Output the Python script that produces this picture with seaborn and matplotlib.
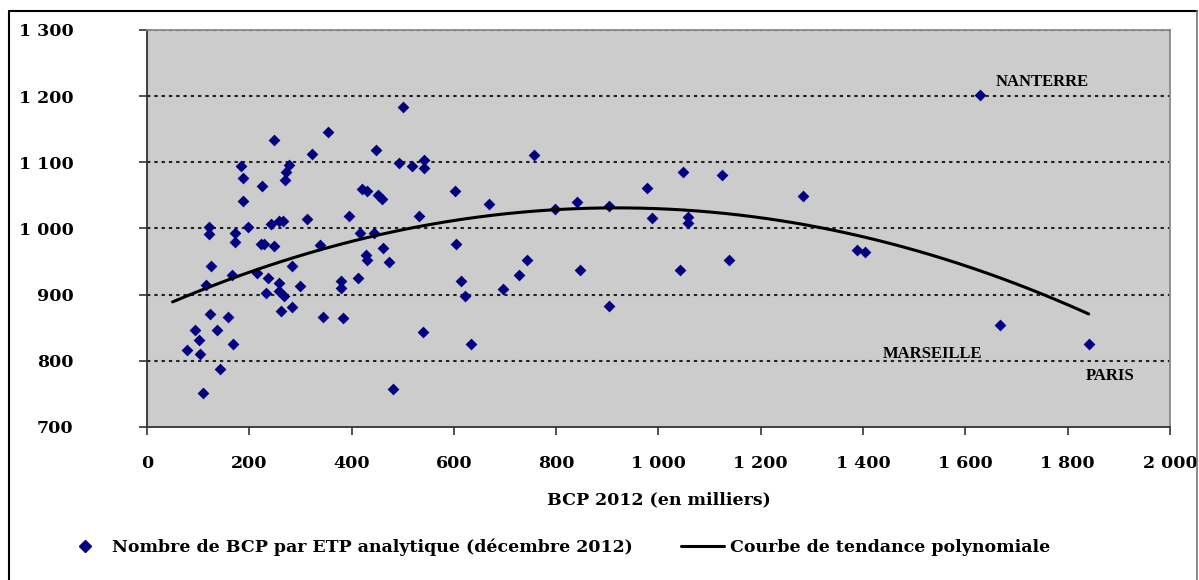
import numpy as np
import pandas as pd
import matplotlib
matplotlib.use("Agg")
import matplotlib.pyplot as plt
from matplotlib.lines import Line2D
from matplotlib.ticker import FuncFormatter, MultipleLocator
import seaborn as sns

# BCP 2012 (milliers) / nombre de BCP par ETP analytique
bcp = [79, 94, 102, 104, 110, 121, 121, 115, 126, 124, 137, 143, 159, 169, 166, 172, 172,
       184, 188, 188, 197, 216, 224, 223, 228, 236, 233, 242, 249, 249, 258, 265, 259, 259,
       268, 262, 270, 272, 278, 284, 284, 300, 313, 323, 339, 345, 354, 380, 380, 383, 394,
       412, 416, 421, 431, 428, 431, 444, 448, 452, 460, 461, 473, 480, 492, 501, 519, 531,
       542, 541, 539,
       602, 605, 614, 622, 633, 669, 696, 727, 743, 756, 798, 840, 846, 904, 904, 977, 987,
       1042, 1048, 1058, 1058, 1125, 1138, 1282, 1388, 1404, 1629, 1668, 1841]
bcp_etp = [816, 846, 831, 811, 752, 1002, 992, 914, 944, 871, 846, 787, 866, 826, 930, 993, 980,
           1094, 1076, 1042, 1002, 932, 1064, 977, 977, 925, 903, 1007, 1133, 974, 1012, 1012, 918, 905,
           898, 876, 1073, 1086, 1096, 943, 881, 913, 1014, 1113, 975, 866, 1146, 921, 910, 864, 1019,
           925, 993, 1059, 1056, 960, 953, 993, 1119, 1051, 1044, 970, 950, 757, 1099, 1183, 1094, 1019,
           1104, 1091, 843,
           1056, 977, 920, 898, 826, 1037, 908, 929, 953, 1111, 1029, 1040, 938, 1034, 883, 1061, 1016,
           938, 1086, 1017, 1009, 1081, 953, 1049, 967, 965, 1202, 854, 826]

# coefficients de la courbe de tendance (ordre 2)
trend_coef = [-1.884e-4, 0.3461, 872.2]
trend_start = 50

villes = ["NANTERRE", "MARSEILLE", "PARIS"]
villes_pos = [(1660, 1222), (1438, 811), (1836, 777)]

serie_label = "Nombre de BCP par ETP analytique (décembre 2012)"
trend_label = "Courbe de tendance polynomiale"

df = pd.DataFrame({"bcp": bcp, "etp": bcp_etp})
xt = np.linspace(trend_start, df["bcp"].max(), 200)
trend = pd.DataFrame({"bcp": xt, "etp": np.polyval(trend_coef, xt)})

sns.set_style("white")
plt.rcParams["font.family"] = ["DejaVu Serif"]
plt.rcParams["font.weight"] = "bold"
plt.rcParams["text.color"] = "black"
plt.rcParams["axes.labelcolor"] = "black"

fig = plt.figure(figsize=(11.99, 5.8), dpi=100)
ax = fig.add_axes([0.1226, 0.2638, 0.8532, 0.6845])
ax.set_facecolor("#cccccc")

for v in range(800, 1301, 100):
    ax.axhline(v, color="#222222", lw=1.5, ls=(0, (1.6, 1.9)), zorder=1)

sns.scatterplot(data=df, x="bcp", y="etp", marker="D", color="#000080", s=36,
                linewidth=0, ax=ax, zorder=3, legend=False)
sns.lineplot(data=trend, x="bcp", y="etp", color="black", lw=2.2, ax=ax, zorder=4,
             legend=False)

for name, (tx, ty) in zip(villes, villes_pos):
    ax.text(tx, ty, name, fontsize=12, fontweight="bold", va="center", ha="left",
            family="Liberation Serif", color="black")

ax.set_xlim(0, 2000)
ax.set_ylim(700, 1300)
ax.xaxis.set_major_locator(MultipleLocator(200))
ax.yaxis.set_major_locator(MultipleLocator(100))
fmt = FuncFormatter(lambda v, p: f"{v:,.0f}".replace(",", " "))
ax.xaxis.set_major_formatter(fmt)
ax.yaxis.set_major_formatter(fmt)
ax.tick_params(axis="both", direction="out", length=6, width=1.2, labelsize=12.5,
               color="#333333", labelcolor="black", bottom=True, left=True)
ax.tick_params(axis="x", pad=14)
ax.tick_params(axis="y", pad=47)
for lab in ax.get_xticklabels() + ax.get_yticklabels():
    lab.set_fontweight("bold")
ax.set_xlabel("BCP 2012 (en milliers)", fontsize=12.5, fontweight="bold", labelpad=14)
ax.set_ylabel("")

for side in ["left", "bottom"]:
    ax.spines[side].set_color("#333333")
    ax.spines[side].set_linewidth(1.3)
for side in ["top", "right"]:
    ax.spines[side].set_color("#888888")
    ax.spines[side].set_linewidth(1.3)

handles = [
    Line2D([], [], marker="D", color="#000080", ls="none", markersize=6),
    Line2D([], [], color="black", lw=2.2),
]
fig.legend(handles, [serie_label, trend_label], loc="center left",
           bbox_to_anchor=(63 / 1199, 0.057), ncol=2, frameon=False, borderpad=0,
           borderaxespad=0, prop={"size": 12.5, "weight": "bold"}, handlelength=2.5,
           handletextpad=0.3, columnspacing=2.8, labelcolor="black")

# cadre extérieur
fig.add_artist(Line2D([9 / 1199, 9 / 1199], [0, 1 - 11 / 580], color="black", lw=1.5,
                      transform=fig.transFigure))
fig.add_artist(Line2D([9 / 1199, 1197 / 1199], [1 - 11 / 580, 1 - 11 / 580], color="black",
                      lw=1.5, transform=fig.transFigure))
fig.add_artist(Line2D([1197 / 1199, 1197 / 1199], [0, 1 - 11 / 580], color="#777777", lw=1.2,
                      transform=fig.transFigure))

fig.savefig("out.png", dpi=100)
